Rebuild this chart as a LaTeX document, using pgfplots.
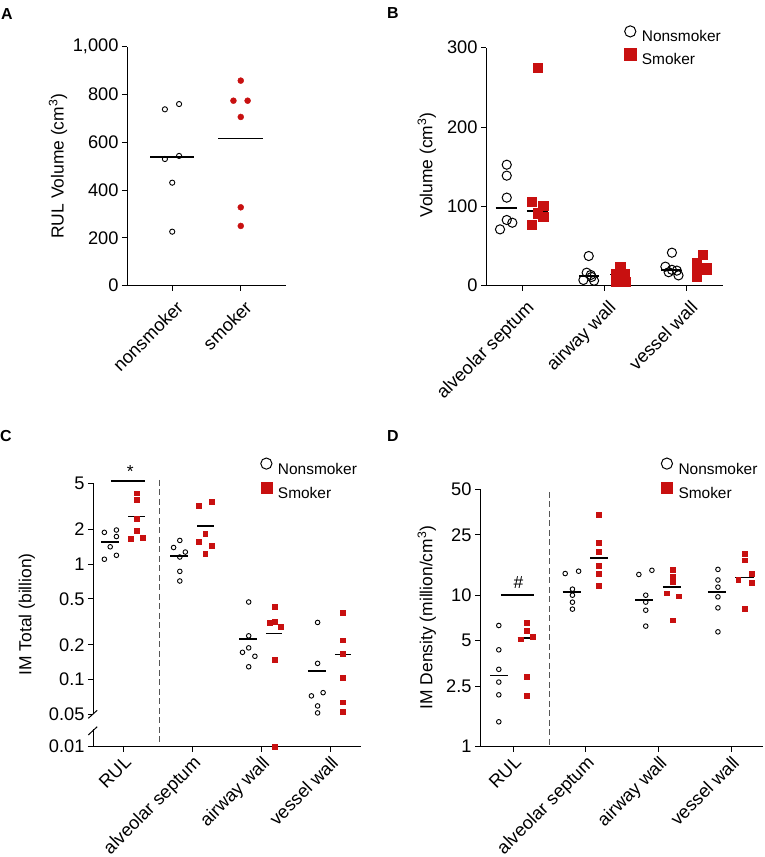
\documentclass[border=0pt]{standalone}
\usepackage{fontspec}
\setmainfont{Liberation Sans}
\usepackage{pgfplots}
\pgfplotsset{compat=1.18}
\definecolor{smk}{RGB}{200,16,16}
\definecolor{dashgray}{RGB}{85,85,85}
\newcommand{\axfont}{\fontsize{17.5}{20}\selectfont}
\newcommand{\tkfont}{\fontsize{18.3}{20}\selectfont}
\newcommand{\lgfont}{\fontsize{15.5}{18}\selectfont}
\pgfplotsset{
  panel/.style={scale only axis, axis x line*=bottom, axis y line*=left,
    axis line style={black, line width=1bp},
    tick style={black, line width=1bp},
    major tick length=5bp, tick align=outside,
    tick label style={font=\tkfont},
    xticklabel style={rotate=45, anchor=north east, inner sep=2bp},
    clip=false, yminorticks=false, xminorticks=false,
    /pgf/number format/assume math mode=true},
  ylab/.style 2 args={every axis y label/.style={at={(axis description cs:#1,#2)}, rotate=90, anchor=center, font=\axfont}},
  lg/.style n args={3}{legend style={at={(#1,#2)}, anchor=north west, draw=none, fill=none,
      inner sep=0pt, outer sep=0pt, column sep=6bp, row sep=#3, font=\lgfont,
      nodes={inner sep=0pt}},
    legend cell align=left,
    legend image code/.code={\draw[##1] plot coordinates {(6bp,5.6bp)};}},
  nsA/.style={only marks, mark=o, mark size=2.6bp, mark options={black, line width=0.9bp}},
  smA/.style={only marks, mark=*, mark size=3bp, color=smk, mark options={draw=smk, fill=smk}},
  nsB/.style={only marks, mark=o, mark size=4.6bp, mark options={black, line width=1bp}},
  smB/.style={only marks, mark=square*, mark size=4.6bp, color=smk, mark options={draw=smk, fill=smk, line width=0.5bp}},
  nsC/.style={only marks, mark=o, mark size=2.3bp, mark options={black, line width=0.9bp}},
  smC/.style={only marks, mark=square*, mark size=2.4bp, color=smk, mark options={draw=smk, fill=smk, line width=0.4bp}},
  lgN/.style={only marks, mark=o, mark size=5.6bp, mark options={black, line width=1bp}},
  lgS/.style={only marks, mark=square*, mark size=5.6bp, mark options={draw=smk, fill=smk}},
  med/.style={black, line width=1.8bp, no marks},
}
\begin{document}
\begin{tikzpicture}
\useasboundingbox (0,0) rectangle (765bp,857bp);

% ---------------- Panel A ----------------
\begin{axis}[panel, at={(127bp,571.3bp)}, anchor=south west, width=159bp, height=239bp,
  xmin=-0.66, xmax=1.66, ymin=0, ymax=1000,
  xtick={0,1}, xticklabels={nonsmoker,smoker},
  xticklabel style={yshift=-6bp, xshift=-2bp},
  ytick={0,200,400,600,800,1000}, yticklabels={0,200,400,600,800,{1,000}},
  ylab={-0.434}{0.5}, ylabel={RUL Volume (cm\textsuperscript{3})}]
\addplot[nsA] coordinates {(-0.107,738) (0.10,760) (-0.107,530) (0.10,543) (0,431) (0,226)};
\addplot[smA] coordinates {(1,858) (0.893,774) (1.10,774) (1,706) (1,328) (1,250)};
\addplot[med] coordinates {(-0.32,540) (0.32,540)};
\addplot[med] coordinates {(0.67,616) (1.33,616)};
\end{axis}

% ---------------- Panel B ----------------
\begin{axis}[panel, at={(486bp,571.3bp)}, anchor=south west, width=237bp, height=238bp,
  xmin=-0.448, xmax=2.443, ymin=0, ymax=300,
  xtick={0,1,2}, xticklabels={alveolar septum,airway wall,vessel wall},
  xticklabel style={yshift=-6bp, xshift=-2bp},
  ytick={0,100,200,300},
  ylab={-0.25}{0.507}, ylabel={Volume (cm\textsuperscript{3})},
  lg={0.585}{1.092}{5.2bp}]
\addlegendimage{lgN}\addlegendentry{Nonsmoker}
\addlegendimage{lgS}\addlegendentry{Smoker}
\addplot[nsB, forget plot] coordinates {(-0.195,152.5) (-0.195,138.7) (-0.195,111) (-0.195,82.8) (-0.277,71) (-0.127,79.4)
  (0.805,37.4) (0.78,16.4) (0.83,13.5) (0.74,7.2) (0.87,6.3) (0.84,11)
  (1.82,41.6) (1.74,24) (1.82,20) (1.88,19) (1.78,17) (1.90,13)};
\addplot[smB, forget plot] coordinates {(0.18,274.8) (0.11,105.9) (0.25,100.5) (0.25,87) (0.11,76.5) (0.18,91.3)
  (1.19,23.2) (1.14,14.4) (1.24,14.4) (1.13,5.0) (1.25,5.0) (1.19,11)
  (2.20,38.7) (2.12,28.2) (2.24,21.9) (2.12,15.6) (2.12,11) (2.24,20)};
\addplot[med, forget plot] coordinates {(-0.33,97.5) (-0.07,97.5)};
\addplot[med, forget plot] coordinates {(0.05,94.2) (0.31,94.2)};
\addplot[med, forget plot] coordinates {(0.69,12) (0.93,12)};
\addplot[med, forget plot] coordinates {(1.07,14) (1.31,14)};
\addplot[med, forget plot] coordinates {(1.69,19.8) (1.93,19.8)};
\addplot[med, forget plot] coordinates {(2.07,21) (2.31,21)};
\end{axis}

% ---------------- Panel C (upper part of broken axis) ----------------
\begin{axis}[panel, at={(93bp,142.7bp)}, anchor=south west, width=268bp, height=231bp,
  axis x line=none, axis y line*=left,
  ymode=log, ymin=0.05, ymax=5, xmin=-0.44, xmax=3.45,
  ytick={0.05,0.1,0.2,0.5,1,2,5}, yticklabels={0.05,0.1,0.2,0.5,1,2,5},
  ylab={-0.247}{0.433}, ylabel={IM Total (billion)},
  lg={0.626}{1.1095}{6.9bp}]
\addlegendimage{lgN}\addlegendentry{Nonsmoker}
\addlegendimage{lgS}\addlegendentry{Smoker}
\addplot[nsC, forget plot] coordinates {(-0.275,1.88) (-0.10,1.97) (-0.10,1.73) (-0.19,1.41) (-0.275,1.10) (-0.10,1.19)
  (0.73,1.39) (0.82,1.60) (0.90,1.27) (0.82,1.15) (0.82,0.864) (0.82,0.713)
  (1.82,0.469) (1.82,0.239) (1.73,0.172) (1.82,0.188) (1.91,0.159) (1.82,0.129)
  (2.82,0.312) (2.82,0.138) (2.73,0.0722) (2.90,0.077) (2.82,0.0591) (2.82,0.0514)};
\addplot[smC, forget plot] coordinates {(0.19,4.10) (0.19,3.61) (0.19,2.47) (0.19,1.93) (0.11,1.67) (0.28,1.69)
  (1.28,3.49) (1.10,3.18) (1.19,1.82) (1.10,1.55) (1.28,1.45) (1.19,1.22)
  (2.20,0.427) (2.12,0.31) (2.20,0.316) (2.29,0.286) (2.20,0.149)
  (3.19,0.378) (3.19,0.219) (3.19,0.168) (3.19,0.104) (3.19,0.0636) (3.19,0.0525)};
\addplot[med, forget plot] coordinates {(-0.32,1.55) (-0.06,1.55)};
\addplot[med, forget plot] coordinates {(0.07,2.58) (0.31,2.58)};
\addplot[med, forget plot] coordinates {(0.68,1.17) (0.94,1.17)};
\addplot[med, forget plot] coordinates {(1.07,2.13) (1.31,2.13)};
\addplot[med, forget plot] coordinates {(1.68,0.225) (1.94,0.225)};
\addplot[med, forget plot] coordinates {(2.07,0.25) (2.31,0.25)};
\addplot[med, forget plot] coordinates {(2.68,0.118) (2.94,0.118)};
\addplot[med, forget plot] coordinates {(3.07,0.165) (3.31,0.165)};
\addplot[black, line width=1.5bp, no marks, forget plot] coordinates {(-0.18,5.24) (0.31,5.24)};
\node[font=\axfont] at (axis cs:0.1,6.3) {*};
\draw[dashgray, line width=1.1bp, dash pattern=on 6bp off 3.5bp] (axis cs:0.52,5.35) -- ([yshift=-32.4bp]axis cs:0.52,0.05);
\end{axis}

% ---------------- Panel C (lower part) ----------------
\begin{axis}[panel, at={(93bp,110.3bp)}, anchor=south west, width=268bp, height=17.7bp,
  ymode=log, ymin=0.01, ymax=0.02, xmin=-0.44, xmax=3.45,
  ytick={0.01}, yticklabels={0.01},
  xtick={0,1,2,3}, xticklabels={RUL,alveolar septum,airway wall,vessel wall}]
\addplot[smC] coordinates {(2.20,0.01)};
\end{axis}
\draw[line width=1bp] (88.3bp,138.7bp) -- (97.2bp,146.7bp);
\draw[line width=1bp] (88.3bp,122bp) -- (97.2bp,130.3bp);

% ---------------- Panel D ----------------
\begin{axis}[panel, at={(480bp,110.3bp)}, anchor=south west, width=283.3bp, height=257.4bp,
  ymode=log, ymin=1, ymax=50, xmin=-0.459, xmax=3.445,
  ytick={1,2.5,5,10,25,50}, yticklabels={1,2.5,5,10,25,50},
  xtick={0,1,2,3}, xticklabels={RUL,alveolar septum,airway wall,vessel wall},
  ylab={-0.188}{0.502}, ylabel={IM Density (million/cm\textsuperscript{3})},
  lg={0.64}{1.1216}{6.9bp}]
\addlegendimage{lgN}\addlegendentry{Nonsmoker}
\addlegendimage{lgS}\addlegendentry{Smoker}
\addplot[nsC, forget plot] coordinates {(-0.20,6.31) (-0.20,4.36) (-0.20,3.24) (-0.20,2.67) (-0.20,2.20) (-0.20,1.46)
  (0.715,13.9) (0.90,14.4) (0.815,10.96) (0.815,10.0) (0.815,8.99) (0.815,8.09)
  (1.73,13.7) (1.91,14.6) (1.825,10.0) (1.825,9.0) (1.825,7.96) (1.825,6.25)
  (2.82,14.8) (2.82,12.6) (2.82,11.3) (2.82,9.75) (2.82,8.25) (2.82,5.73)};
\addplot[smC, forget plot] coordinates {(0.18,6.57) (0.18,5.82) (0.10,5.13) (0.27,5.29) (0.18,2.89) (0.18,2.18)
  (1.18,34.0) (1.18,22.1) (1.18,19.3) (1.18,15.6) (1.18,13.9) (1.18,11.6)
  (2.20,14.8) (2.20,13.2) (2.20,12.2) (2.11,10.3) (2.28,9.85) (2.20,6.84)
  (3.19,18.8) (3.19,17.0) (3.28,13.9) (3.10,12.7) (3.28,12.1) (3.19,8.17)};
\addplot[med, forget plot] coordinates {(-0.32,2.95) (-0.07,2.95)};
\addplot[med, forget plot] coordinates {(0.06,5.23) (0.31,5.23)};
\addplot[med, forget plot] coordinates {(0.68,10.5) (0.93,10.5)};
\addplot[med, forget plot] coordinates {(1.06,17.5) (1.31,17.5)};
\addplot[med, forget plot] coordinates {(1.68,9.27) (1.93,9.27)};
\addplot[med, forget plot] coordinates {(2.06,11.3) (2.31,11.3)};
\addplot[med, forget plot] coordinates {(2.68,10.5) (2.93,10.5)};
\addplot[med, forget plot] coordinates {(3.06,13.1) (3.31,13.1)};
\addplot[black, line width=1.5bp, no marks, forget plot] coordinates {(-0.17,10) (0.29,10)};
\node[font=\axfont] at (axis cs:0.07,12.05) {\#};
\draw[dashgray, line width=1.1bp, dash pattern=on 6bp off 3.5bp] (axis cs:0.5,48) -- (axis cs:0.5,1);
\end{axis}

% panel letters
\node[anchor=north west, inner sep=0pt, font=\fontsize{16}{18}\selectfont\bfseries] at (1bp,848.7bp) {A};
\node[anchor=north west, inner sep=0pt, font=\fontsize{16}{18}\selectfont\bfseries] at (387bp,850bp) {B};
\node[anchor=north west, inner sep=0pt, font=\fontsize{16}{18}\selectfont\bfseries] at (0bp,427bp) {C};
\node[anchor=north west, inner sep=0pt, font=\fontsize{16}{18}\selectfont\bfseries] at (387bp,427bp) {D};
\end{tikzpicture}
\end{document}
